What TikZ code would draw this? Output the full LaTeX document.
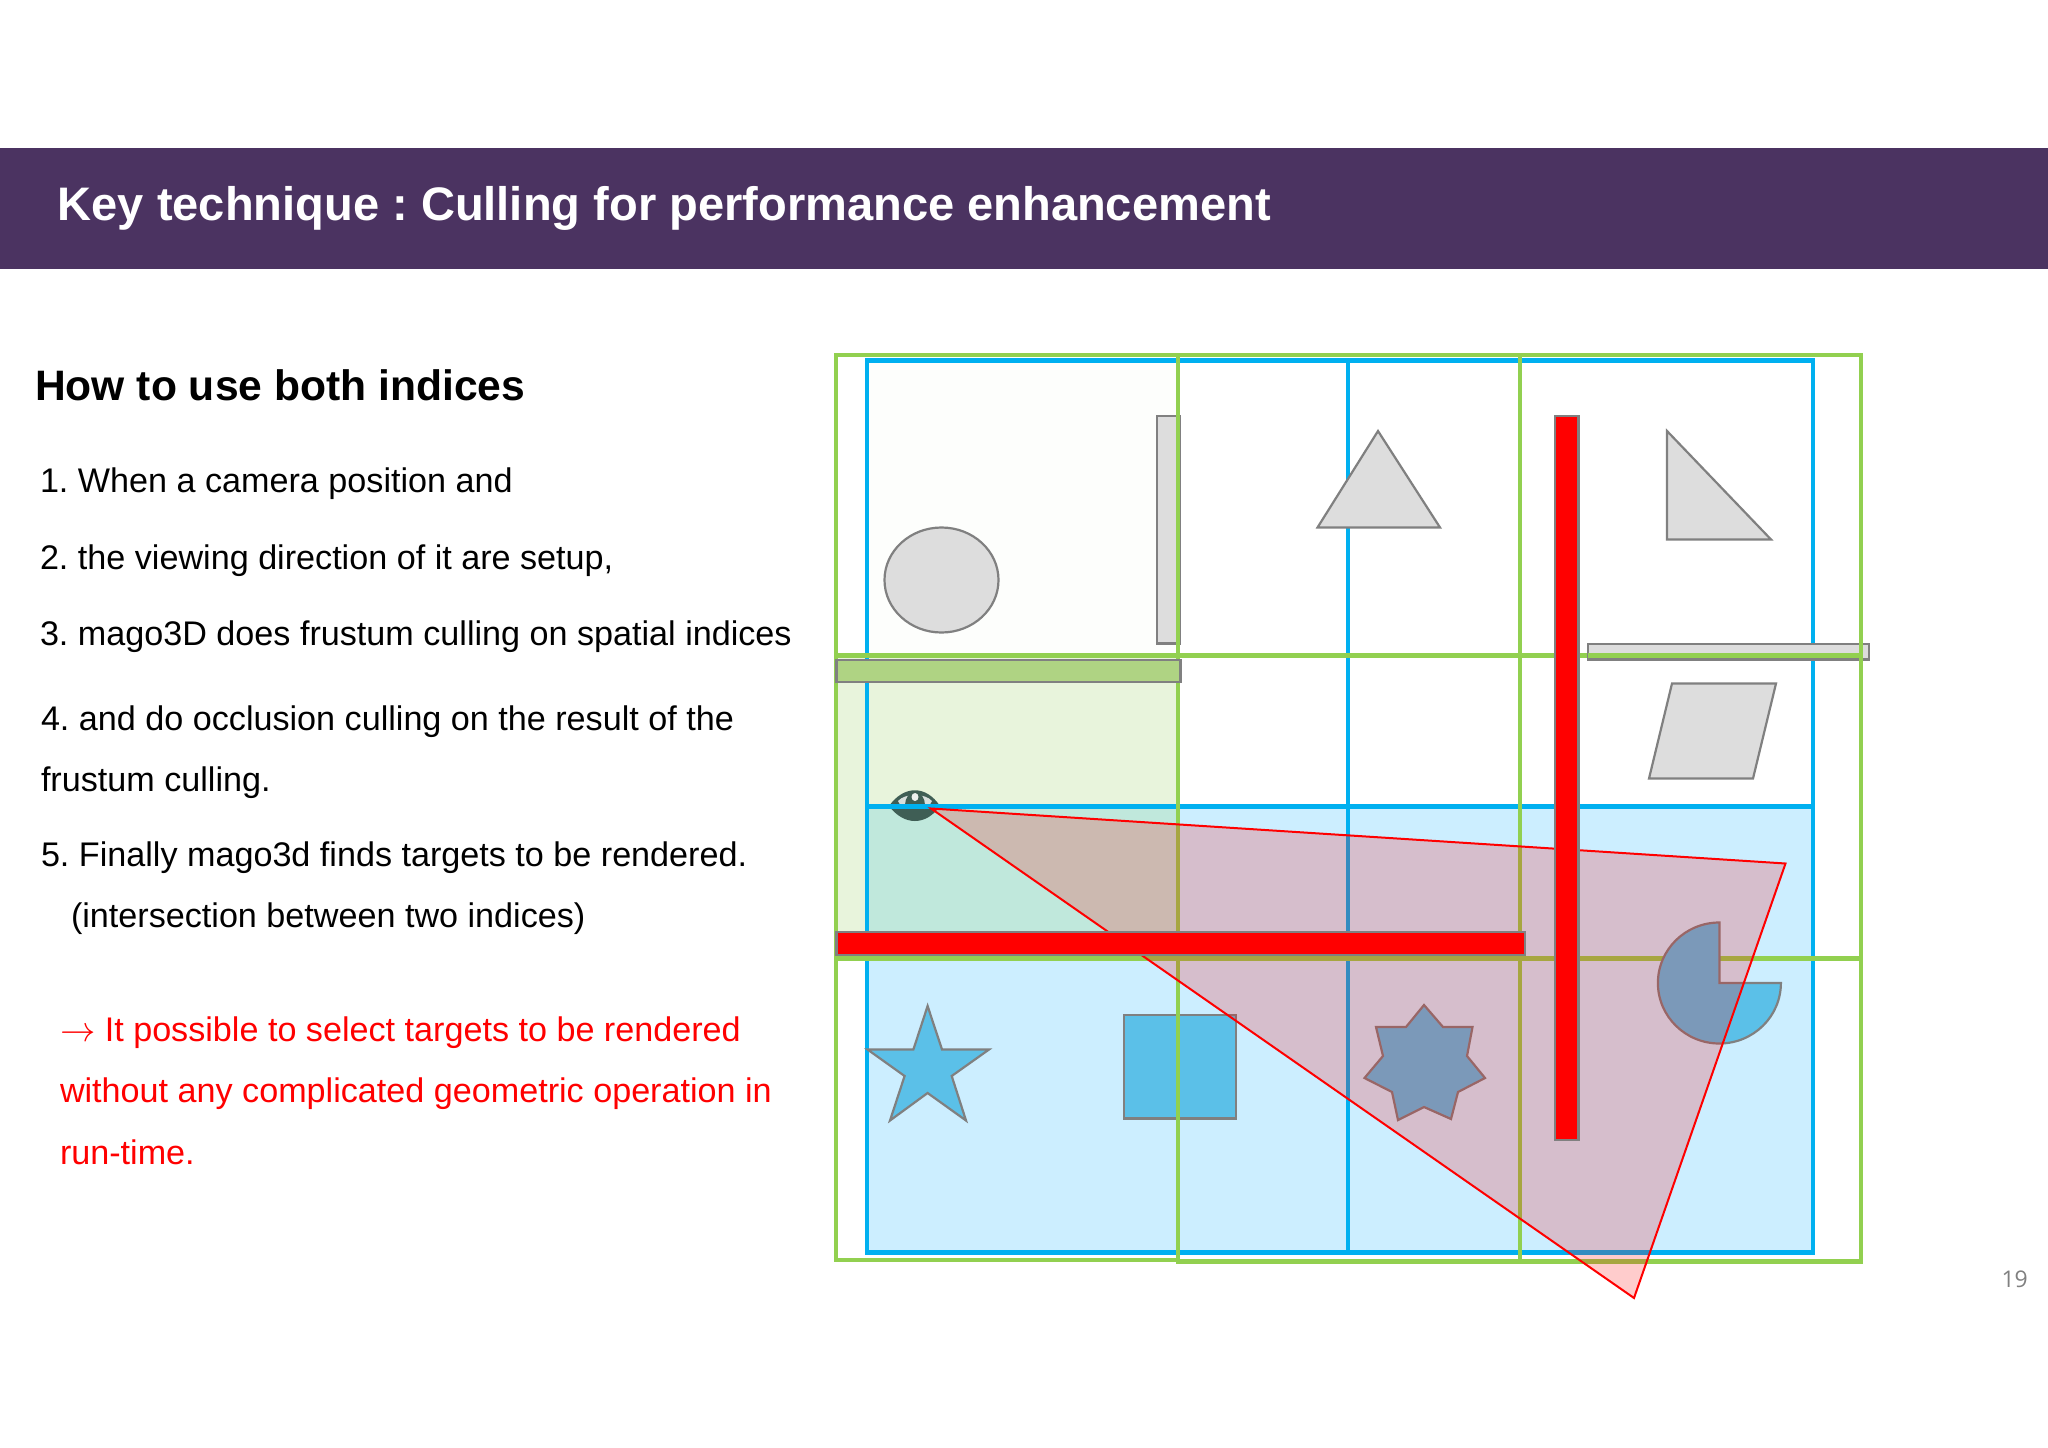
\documentclass[tikz,border=0pt]{standalone}
\usepackage{fontspec}
\setmainfont{Liberation Sans}
\newfontfamily\numfont{Open Sans}
\definecolor{hdr}{HTML}{4B3361}
\definecolor{gridgreen}{HTML}{92D050}
\definecolor{gridblue}{HTML}{00B0F0}
\definecolor{bluecell}{HTML}{CCEEFF}
\definecolor{greencell}{HTML}{E8F4DC}
\definecolor{overlapcell}{HTML}{C0E8DC}
\definecolor{faintcell}{HTML}{FDFEFC}
\definecolor{shapegray}{HTML}{DDDDDD}
\definecolor{shapeline}{HTML}{808080}
\definecolor{shapeblue}{HTML}{5BC0E8}
\definecolor{wallgreen}{HTML}{AFD383}
\definecolor{eyedark}{HTML}{3F5E55}
\tikzset{
  greenline/.style={draw=gridgreen,line width=4.6pt},
  blueline/.style={draw=gridblue,line width=4.6pt},
  graysolid/.style={draw=shapeline,line width=2.2pt,fill=shapegray,line join=miter},
  bluesolid/.style={draw=shapeline,line width=2.2pt,fill=shapeblue,line join=miter},
  redwall/.style={draw=shapeline,line width=2.4pt,fill=red},
  greenwall/.style={draw=shapeline,line width=2.4pt,fill=wallgreen},
  frustum/.style={draw=red,line width=2pt,fill=red,fill opacity=0.2,line join=miter},
  bodytext/.style={anchor=base west,inner sep=0pt,outer sep=0pt,font=\fontsize{34.15}{38}\selectfont\frenchspacing},
  redtext/.style={bodytext,text=red},
}
\begin{document}
\begin{tikzpicture}[x=1pt,y=-1pt]
\useasboundingbox (0,0) rectangle (2048,1448);
\fill[white] (0,0) rectangle (2048,1448);
% header
\fill[hdr] (0,147.5) rectangle (2048,268.5);
\node[anchor=base west,inner sep=0pt,text=white,font=\fontsize{47.05}{50}\selectfont\bfseries\frenchspacing] (title) at (57.5,220) {Key technique : Culling for performance enhancement};
% left text
\node[anchor=base west,inner sep=0pt,font=\fontsize{42.6}{46}\selectfont\bfseries] (head) at (35,400) {How to use both indices};
\node[bodytext] (t1) at (40,492) {1. When a camera position and};
\node[bodytext] (t2) at (40,569) {2. the viewing direction of it are setup,};
\node[bodytext] (t3) at (40,645) {3. mago3D does frustum culling on spatial indices};
\node[bodytext] (t4) at (41,730) {4. and do occlusion culling on the result of the};
\node[bodytext] (t5) at (41,791) {frustum culling.};
\node[bodytext] (t6) at (41,866) {5. Finally mago3d finds targets to be rendered.};
\node[bodytext] (t7) at (71,927) {(intersection between two indices)};
\node[redtext] (r1) at (60,1041) {\scalebox{1.42}{$\rightarrow$} It possible to select targets to be rendered};
\node[redtext] (r2) at (60,1102) {without any complicated geometric operation in};
\node[redtext] (r3) at (60,1164) {run-time.};
\node[anchor=base east,inner sep=0pt,text=black!50,font=\numfont\fontsize{23}{24}\selectfont] (pg) at (2028,1287) {19};
% cell fills
\fill[faintcell] (867,360) rectangle (1178,655);
\fill[greencell] (836,655) rectangle (1178,958);
\fill[bluecell] (867,806) rectangle (1813,1252);
\fill[overlapcell] (867,806) rectangle (1178,958);
% eye
\fill[eyedark] (889,806) .. controls (904,785) and (926,785) .. (940,806) .. controls (926,826) and (904,826) .. cycle;
\fill[white!80!eyedark] (898,801) .. controls (905,793) and (925,793) .. (932,801) .. controls (925,815) and (905,815) .. cycle;
\fill[eyedark] (915,805) circle [x radius=10,y radius=13];
\fill[white!90!eyedark] (915,797) circle [x radius=3.5,y radius=4];
% blue grid
\draw[blueline] (867,360.5) rectangle (1813,1252.5);
\draw[blueline] (1348,360.5) -- (1348,1252.5);
\draw[blueline] (867,806.5) -- (1813,806.5);
% green grid
\draw[greenline] (836,355) rectangle (1178,655.5);
\draw[greenline] (836,655.5) rectangle (1178,958.5);
\draw[greenline] (836,958.5) rectangle (1178,1260);
\draw[greenline] (1178,355) rectangle (1520,655.5);
\draw[greenline] (1178,655.5) rectangle (1520,958.5);
\draw[greenline] (1178,958.5) rectangle (1520,1261.5);
\draw[greenline] (1520,355) rectangle (1861,655.5);
\draw[greenline] (1520,655.5) rectangle (1861,958.5);
\draw[greenline] (1520,958.5) rectangle (1861,1261.5);
% solids
\draw[graysolid] (941.5,580) circle [x radius=57,y radius=52.5];
\draw[graysolid] (1378,431) -- (1440,527.5) -- (1317.5,527.5) -- cycle;
\draw[graysolid] (1667,431) -- (1771,539.5) -- (1667,539.5) -- cycle;
\draw[graysolid] (1672,683.5) -- (1776,683.5) -- (1753,778.5) -- (1649,778.5) -- cycle;
\draw[graysolid] (1157,416) rectangle (1180,643.5);
\draw[gridgreen,line width=4.6pt] (1178,414) -- (1178,645);
\draw[graysolid] (1588,644) rectangle (1869,659.5);
\draw[gridgreen,line width=4.6pt] (1588,655.5) -- (1861,655.5);
\draw[gridgreen,line width=4.6pt] (1861,642) -- (1861,661);
\draw[bluesolid] (927.6,1006) -- (942,1049.5) -- (989,1049.5) -- (951.7,1076) -- (966,1120.5) -- (927.6,1093) -- (890,1120.5) -- (904.6,1076) -- (867.5,1049.5) -- (913.4,1049.5) -- cycle;
\draw[bluesolid] (1124,1015) rectangle (1236,1118.5);
\draw[gridgreen,line width=4.6pt] (1178,1014) -- (1178,1119.5);
\draw[bluesolid] (1424,1005) -- (1443,1027) -- (1472.5,1027) -- (1467,1056) -- (1485,1078) -- (1458,1092) -- (1451,1119) -- (1424,1107) -- (1398,1120) -- (1392,1092) -- (1364.5,1078) -- (1383,1056) -- (1376,1027) -- (1406,1027) -- cycle;
\draw[bluesolid] (1719.4,983) -- (1719.4,922.5) arc [start angle=-90,end angle=-360,x radius=61.5,y radius=60.5] -- cycle;
% frustum
\draw[frustum] (931,808.5) -- (1785.5,863.5) -- (1634,1298) -- cycle;
% walls
\draw[greenwall] (836.5,660) rectangle (1180.5,682);
\draw[redwall] (1555,416) rectangle (1578.5,1140);
\draw[redwall] (836.5,932) rectangle (1525,955);
\end{tikzpicture}
\end{document}
